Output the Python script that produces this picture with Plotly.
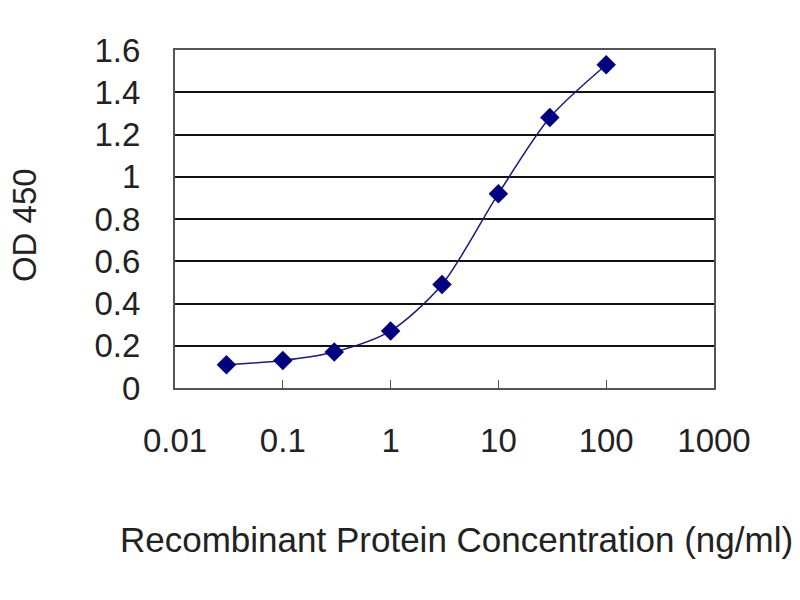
import plotly.graph_objects as go

# concentração (ng/ml) e leitura OD 450
conc = [0.03, 0.1, 0.3, 1, 3, 10, 30, 100]
od450 = [0.11, 0.13, 0.17, 0.27, 0.49, 0.92, 1.28, 1.53]

x_ticks = [0.01, 0.1, 1, 10, 100, 1000]
x_tick_text = ["0.01", "0.1", "1", "10", "100", "1000"]
y_ticks = [0, 0.2, 0.4, 0.6, 0.8, 1, 1.2, 1.4, 1.6]
y_tick_text = ["0", "0.2", "0.4", "0.6", "0.8", "1", "1.2", "1.4", "1.6"]

FONT = "Liberation Sans, Arial, sans-serif"

fig = go.Figure(go.Scatter(
    x=conc, y=od450,
    mode="lines+markers",
    line=dict(color="#1a1a80", width=1.5, shape="spline", smoothing=0.8),
    marker=dict(symbol="diamond", size=15, color="#000080"),
))

# a página tem margem de 8px no body, por isso l/t menores
fig.update_layout(
    width=800, height=600,
    margin=dict(l=167, r=94, t=42, b=220),
    paper_bgcolor="white", plot_bgcolor="white",
    showlegend=False,
    font=dict(family=FONT, size=33, color="#222"),
    xaxis=dict(
        type="log", range=[-2, 3],
        tickvals=x_ticks, ticktext=x_tick_text,
        ticks="inside", ticklen=8, tickcolor="#555",
        showgrid=False, zeroline=False,
        showline=True, linecolor="#555", linewidth=2, mirror=True,
        ticklabelstandoff=22,
    ),
    yaxis=dict(
        range=[0, 1.6],
        tickvals=y_ticks, ticktext=y_tick_text,
        ticks="", showgrid=True, gridcolor="#111", gridwidth=2,
        zeroline=False,
        showline=True, linecolor="#555", linewidth=2, mirror=True,
        ticklabelstandoff=26,
    ),
    annotations=[
        dict(text="Recombinant Protein Concentration (ng/ml)",
             xref="paper", yref="paper", x=-0.1058, y=-0.4497,
             xanchor="left", yanchor="middle", showarrow=False,
             font=dict(family=FONT, size=35, color="#222")),
        dict(text="OD 450", textangle=-90,
             xref="paper", yref="paper", x=-0.2801, y=0.482,
             xanchor="center", yanchor="middle", showarrow=False,
             font=dict(family=FONT, size=33, color="#222")),
    ],
)

fig.write_html("out.html")
